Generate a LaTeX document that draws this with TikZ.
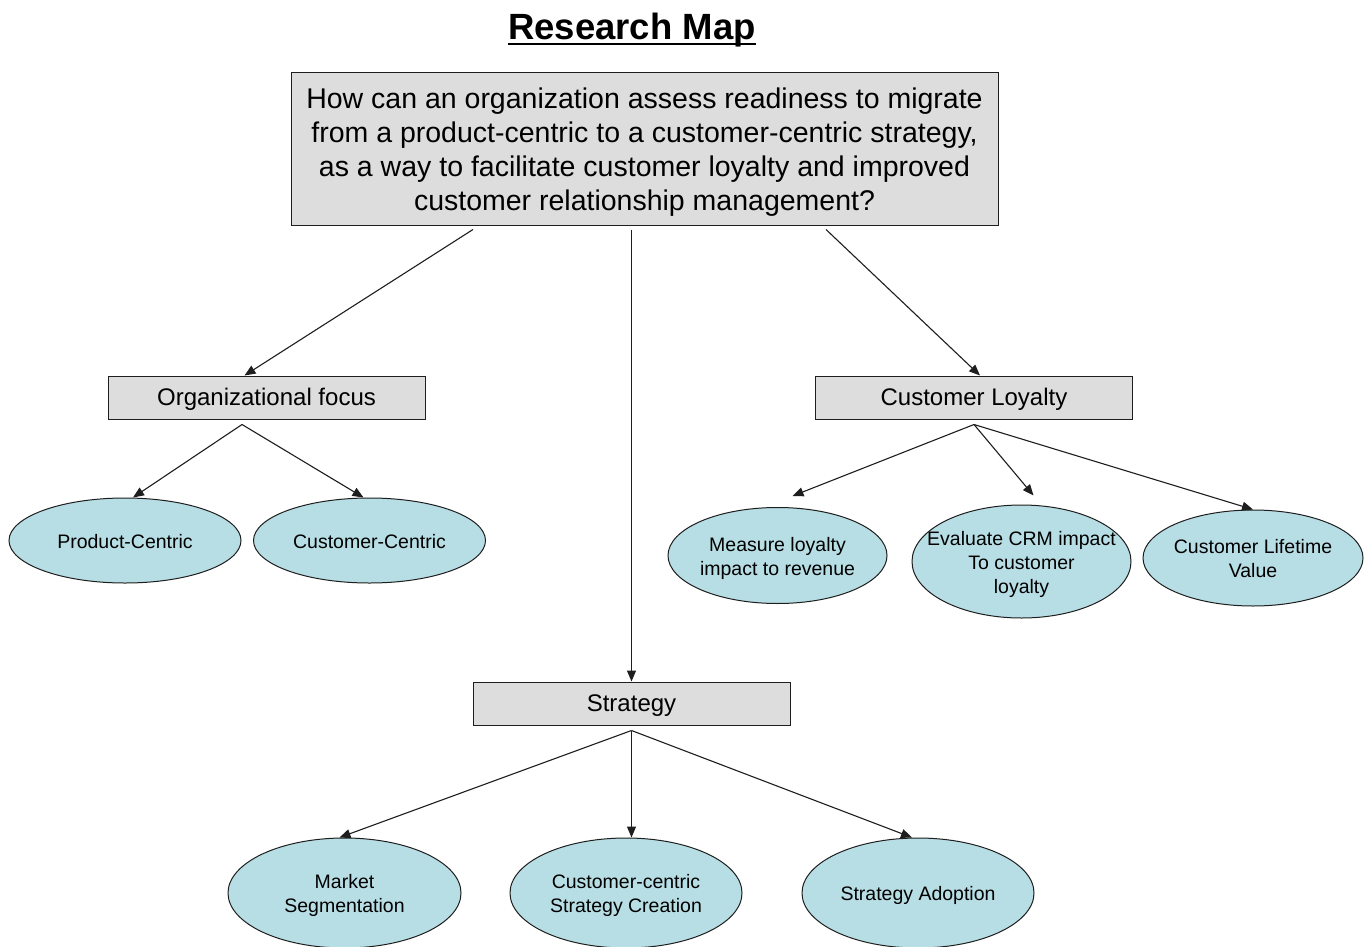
\documentclass[tikz,border=0pt]{standalone}
\usepackage{fontspec}
\setmainfont{Liberation Sans}
\usetikzlibrary{shapes.geometric,arrows.meta,calc}
\definecolor{boxgray}{RGB}{221,221,221}
\definecolor{ellcyan}{RGB}{183,222,228}
\definecolor{linec}{RGB}{30,30,30}
\newcommand{\ovaltext}[1]{\makebox[0pt]{\raisebox{-3pt}[\height][\depth]{\begin{tabular}{@{}c@{}}#1\end{tabular}}}}
\newcommand{\lowtext}[2]{\raisebox{-#1}[\height][\depth]{\begin{tabular}{@{}c@{}}#2\end{tabular}}}
\begin{document}
\begin{tikzpicture}[x=1pt,y=-1pt,
  box/.style={rectangle, draw=linec, fill=boxgray, line width=1pt, inner sep=0pt, align=center},
  catbox/.style={box, minimum width=317pt, minimum height=43pt, font=\fontsize{24}{28}\selectfont},
  oval/.style={ellipse, draw=linec, fill=ellcyan, line width=1pt, inner sep=0pt, font=\fontsize{19.5}{24}\selectfont},
  arr/.style={-{Triangle[length=11pt,width=9pt]}, line width=1.1pt, draw=linec}]
\useasboundingbox (0,0) rectangle (1367,947);
\fill[white] (0,0) rectangle (1367,947);

% title
\node[anchor=base, inner sep=0pt, font=\fontsize{36.5}{40}\selectfont\bfseries] (title) at (632,40) {Research Map};
\draw[line width=2.2pt] ([yshift=-4pt]title.base west) -- ([yshift=-4pt]title.base east);

% question box
\node[box, minimum width=707pt, minimum height=152pt, font=\fontsize{28.5}{34}\selectfont] (q) at (644.5,149)
  {\lowtext{4pt}{How can an organization assess readiness to migrate\\
   from a product-centric to a customer-centric strategy,\\
   as a way to facilitate customer loyalty and improved\\
   customer relationship management?}};

% category boxes
\node[catbox] (org) at (266.5,397.5) {\lowtext{2.5pt}{Organizational focus}};
\node[catbox] (cl) at (974,397.5) {\lowtext{2.5pt}{Customer Loyalty}};
\node[catbox] (strat) at (631.5,703.5) {\lowtext{2.5pt}{Strategy}};

% ellipses
\node[oval, minimum width=232pt, minimum height=85pt] (pc) at (125,540.5) {\ovaltext{Product-Centric}};
\node[oval, minimum width=232pt, minimum height=85pt] (cc) at (369.5,540.5) {\ovaltext{Customer-Centric}};
\node[oval, minimum width=219pt, minimum height=96pt] (ml) at (777.5,555.5) {\ovaltext{Measure loyalty\\impact to revenue}};
\node[oval, minimum width=219pt, minimum height=113pt] (ev) at (1021.5,561.5) {\ovaltext{Evaluate CRM impact\\To customer\\loyalty}};
\node[oval, minimum width=220pt, minimum height=96pt] (clv) at (1253,558) {\ovaltext{Customer Lifetime\\Value}};
\node[oval, minimum width=233pt, minimum height=110pt] (ms) at (344.5,893) {\ovaltext{Market\\Segmentation}};
\node[oval, minimum width=232pt, minimum height=110pt] (cs) at (626,893) {\ovaltext{Customer-centric\\Strategy Creation}};
\node[oval, minimum width=232pt, minimum height=110pt] (sa) at (918,893) {\ovaltext{Strategy Adoption}};

% connectors
\draw[arr] ([xshift=-171.5pt,yshift=-4pt]q.south) -- ([xshift=-22pt]org.north);
\draw[arr] ([xshift=-13pt,yshift=-4pt]q.south) -- (strat.north);
\draw[arr] ([xshift=181.5pt,yshift=-4pt]q.south) -- ([xshift=6pt]cl.north);

\draw[arr] ([xshift=-24.5pt,yshift=-5pt]org.south) -- ([xshift=8pt]pc.north);
\draw[arr] ([xshift=-24.5pt,yshift=-5pt]org.south) -- ([xshift=-6pt]cc.north);

\draw[arr] ([yshift=-5pt]cl.south) -- ([xshift=15pt,yshift=11pt]ml.north);
\draw[arr] ([yshift=-5pt]cl.south) -- ([xshift=12pt,yshift=9pt]ev.north);
\draw[arr] ([yshift=-5pt]cl.south) -- (clv.north);

\draw[arr] ([yshift=-5pt]strat.south) -- ([xshift=-5pt]ms.north);
\draw[arr] ([yshift=-5pt]strat.south) -- ([xshift=5.5pt]cs.north);
\draw[arr] ([yshift=-5pt]strat.south) -- ([xshift=-6pt]sa.north);
\end{tikzpicture}
\end{document}
